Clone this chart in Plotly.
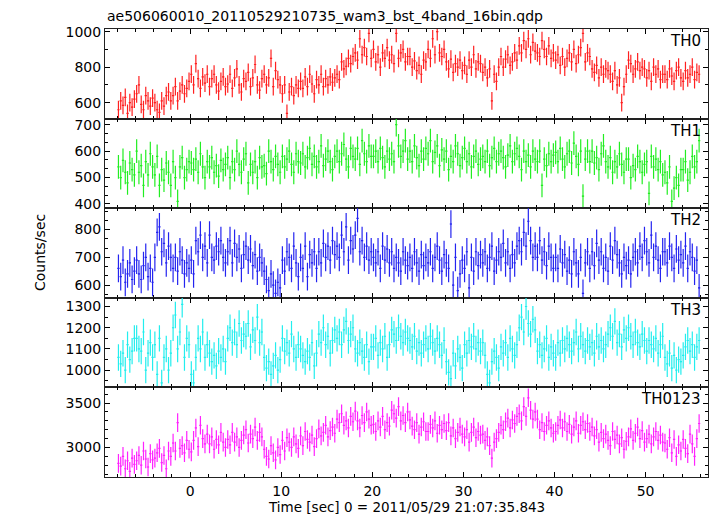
import plotly.graph_objects as go
from plotly.subplots import make_subplots

# ---------------- data (0.25 s bins, t = -8 .. 56 s) ----------------
BIN_START = -7.875   # centre of first bin [s]
BIN_WIDTH = 0.25     # [s]

th0 = [560, 610, 585, 630, 540, 600, 575, 620,
       650, 700, 590, 560, 640, 610, 580, 625,
       600, 560, 545, 610, 580, 640, 660, 610,
       640, 690, 610, 665, 700, 650, 680, 720,
       760, 700, 820, 735, 680, 745, 710, 760,
       690, 735, 760, 700, 665, 720, 745, 690,
       705, 760, 680, 740, 790, 700, 660, 735,
       720, 770, 690, 740, 815, 700, 670, 735,
       760, 700, 740, 850, 690, 780, 730, 700,
       650, 700, 540, 660, 690, 640, 700, 680,
       720, 680, 745, 690, 760, 705, 650, 730,
       700, 760, 690, 735, 700, 745, 715, 740,
       760, 730, 830, 790, 805, 850, 820, 860,
       880, 840, 960, 870, 910, 860, 990, 850,
       900, 830, 870, 800, 880, 850, 910, 840,
       870, 820, 990, 850, 880, 900, 830, 860,
       860, 800, 835, 780, 810, 760, 840, 830,
       900, 850, 960, 870, 1000, 880, 860, 900,
       830, 790, 845, 770, 820, 800, 840, 780,
       810, 760, 840, 800, 870, 790, 830, 820,
       770, 800, 740, 790, 610, 760, 720, 800,
       860, 800, 845, 870, 810, 830, 880, 840,
       920, 880, 950, 900, 960, 870, 940, 890,
       880, 860, 950, 900, 860, 920, 850, 880,
       840, 870, 810, 860, 800, 850, 880, 830,
       900, 820, 870, 910, 990, 830, 880, 860,
       790, 770, 810, 740, 800, 760, 790, 780,
       760, 720, 780, 700, 740, 600, 690, 760,
       840, 820, 760, 790, 830, 780, 800, 790,
       740, 780, 720, 800, 760, 790, 730, 760,
       760, 730, 790, 750, 720, 780, 800, 740,
       720, 780, 740, 760, 800, 730, 770, 760]

th1 = [540, 500, 565, 520, 480, 555, 530, 510,
       600, 520, 545, 470, 560, 510, 590, 540,
       510, 580, 470, 530, 490, 555, 520, 470,
       560, 500, 410, 540, 575, 500, 530, 560,
       555, 530, 570, 520, 590, 540, 500, 560,
       540, 575, 520, 545, 505, 565, 530, 550,
       575, 500, 560, 530, 600, 550, 520, 570,
       590, 480, 550, 520, 560, 500, 575, 540,
       545, 515, 600, 560, 530, 580, 550, 520,
       580, 540, 570, 600, 550, 520, 590, 560,
       555, 590, 540, 575, 610, 550, 580, 540,
       560, 620, 545, 570, 600, 560, 530, 580,
       600, 560, 590, 625, 570, 540, 610, 580,
       570, 610, 550, 640, 590, 560, 620, 580,
       580, 600, 560, 610, 575, 540, 600, 570,
       590, 560, 700, 620, 580, 600, 640, 570,
       600, 560, 620, 575, 545, 600, 570, 610,
       590, 640, 560, 595, 620, 545, 605, 570,
       600, 530, 580, 560, 620, 590, 545, 575,
       610, 560, 590, 540, 580, 600, 550, 570,
       580, 560, 600, 545, 575, 610, 560, 590,
       600, 575, 540, 585, 620, 560, 590, 610,
       580, 530, 600, 560, 585, 540, 600, 570,
       560, 600, 470, 570, 545, 590, 560, 585,
       595, 560, 610, 570, 540, 590, 600, 555,
       630, 580, 550, 600, 430, 570, 600, 560,
       600, 555, 575, 530, 590, 620, 560, 540,
       575, 520, 560, 540, 590, 550, 520, 570,
       570, 500, 545, 530, 580, 560, 520, 550,
       560, 440, 580, 540, 570, 530, 560, 510,
       520, 480, 540, 410, 460, 500, 470, 530,
       530, 560, 490, 520, 580, 540, 560, 640]

th2 = [660, 630, 690, 610, 640, 680, 620, 650,
       690, 640, 620, 670, 700, 630, 660, 610,
       700, 790, 810, 720, 750, 680, 740, 700,
       660, 700, 650, 720, 690, 640, 680, 660,
       690, 640, 760, 720, 780, 700, 740, 680,
       780, 700, 690, 740, 720, 760, 700, 680,
       720, 760, 680, 750, 700, 730, 660, 710,
       740, 690, 730, 670, 710, 650, 700, 680,
       650, 620, 580, 640, 600, 570, 610, 590,
       690, 650, 720, 700, 660, 740, 680, 630,
       700, 660, 740, 630, 710, 680, 720, 660,
       720, 680, 750, 700, 740, 690, 760, 710,
       740, 700, 780, 720, 810, 690, 760, 730,
       780, 840, 720, 760, 700, 740, 690, 720,
       700, 680, 720, 660, 740, 690, 730, 680,
       720, 660, 700, 680, 650, 720, 690, 670,
       700, 660, 720, 680, 650, 710, 670, 700,
       680, 720, 660, 700, 740, 690, 650, 710,
       680, 660, 820, 600, 700, 580, 640, 690,
       660, 720, 590, 700, 650, 720, 670, 710,
       680, 720, 660, 700, 740, 650, 690, 720,
       700, 750, 680, 720, 660, 710, 680, 740,
       760, 720, 790, 740, 830, 760, 700, 740,
       700, 760, 690, 720, 670, 740, 700, 660,
       700, 660, 730, 680, 710, 650, 690, 640,
       720, 680, 640, 700, 570, 680, 720, 660,
       720, 670, 750, 690, 720, 660, 700, 650,
       740, 690, 760, 710, 680, 640, 700, 670,
       690, 640, 700, 720, 680, 740, 700, 760,
       720, 680, 780, 700, 740, 690, 660, 720,
       720, 680, 740, 700, 660, 730, 690, 710,
       680, 740, 660, 720, 700, 650, 690, 590]

th3 = [1060, 1030, 1080, 1000, 1120, 1050, 1090, 1150,
       1150, 1100, 1090, 1180, 1000, 1080, 1130, 1060,
       1120, 980, 1150, 940, 1060, 1100, 1000, 1080,
       1200, 1260, 1100, 1180, 1310, 1060, 1150, 1120,
       980, 940, 1060, 1150, 1100, 1180, 1060, 1120,
       1080, 1040, 1070, 1020, 1090, 1060, 1100, 1040,
       1150, 1200, 1130, 1180, 1120, 1220, 1140, 1170,
       1160, 1220, 1110, 1190, 1140, 1250, 1130, 1180,
       1060, 1010, 1040, 980, 1020, 1070, 1000, 1050,
       1150, 1090, 1130, 1080, 1170, 1100, 1060, 1120,
       1100, 1070, 1040, 1090, 1060, 1130, 1020, 1080,
       1170, 1130, 1200, 1120, 1160, 1080, 1140, 1190,
       1150, 1180, 1120, 1190, 1230, 1140, 1170, 1200,
       1100, 1080, 1130, 1090, 1060, 1120, 1040, 1110,
       1110, 1150, 1070, 1130, 1100, 1160, 1060, 1120,
       1190, 1170, 1140, 1200, 1160, 1130, 1180, 1150,
       1140, 1110, 1160, 1090, 1130, 1080, 1120, 1150,
       1100, 1160, 1130, 1090, 1150, 1120, 1070, 1140,
       1040, 990, 960, 1080, 1020, 1100, 1060, 1010,
       1120, 1080, 1140, 1110, 1160, 1100, 1130, 1090,
       1130, 1070, 980, 940, 1040, 1090, 1060, 1010,
       1110, 1080, 1130, 1060, 1150, 1100, 1070, 1120,
       1200, 1250, 1180, 1300, 1220, 1170, 1240, 1190,
       1090, 1120, 1070, 1100, 1150, 1060, 1110, 1080,
       1060, 1130, 1080, 1140, 1100, 1150, 1120, 1090,
       1130, 1180, 1100, 1160, 1120, 1090, 1140, 1110,
       1130, 1080, 1160, 1110, 1140, 1100, 1120, 1170,
       1200, 1160, 1230, 1130, 1170, 1110, 1190, 1150,
       1200, 1160, 1120, 1180, 1130, 1110, 1170, 1140,
       1090, 1140, 1120, 1100, 1150, 1080, 1120, 1160,
       1060, 1030, 1080, 1010, 1070, 1000, 1050, 1040,
       1070, 1110, 1140, 1090, 1120, 1060, 1110, 1140]

th0123 = [2820, 2790, 2900, 2760, 2850, 2730, 2880, 2810,
          2850, 2910, 2800, 2960, 2870, 2780, 2930, 2860,
          2880, 2940, 2990, 2830, 2910, 2760, 2960, 2900,
          3050, 2960, 3280, 2990, 3020, 2940, 3080, 2980,
          2950, 3080, 3220, 3010, 3250, 3100, 3040, 3150,
          3040, 3120, 2980, 3090, 3030, 3170, 3060, 3000,
          3090, 3030, 3170, 3060, 3120, 3000, 3080, 3140,
          3200, 3050, 3150, 3100, 3230, 3080, 3170, 3120,
          2980, 2900, 2870, 3020, 2940, 2860, 3000, 2920,
          3080, 2960, 3110, 3060, 3000, 3120, 3040, 2990,
          3130, 3020, 3180, 3090, 3060, 3140, 3010, 3100,
          3210, 3130, 3170, 3250, 3120, 3190, 3230, 3160,
          3320, 3280, 3380, 3250, 3300, 3220, 3350, 3290,
          3410, 3300, 3220, 3360, 3280, 3400, 3320, 3250,
          3260, 3180, 3300, 3230, 3350, 3200, 3280, 3240,
          3420, 3380, 3330, 3460, 3300, 3360, 3280, 3400,
          3310, 3240, 3200, 3280, 3150, 3230, 3290, 3180,
          3180, 3260, 3220, 3300, 3160, 3250, 3200, 3270,
          3190, 3280, 3130, 3220, 3100, 3170, 3230, 3150,
          3120, 3200, 3060, 3170, 3230, 3110, 3180, 3140,
          3150, 3080, 3120, 3020, 2880, 3060, 3100, 3170,
          3250, 3200, 3290, 3330, 3220, 3310, 3270, 3350,
          3380, 3300, 3460, 3350, 3560, 3420, 3320, 3400,
          3320, 3200, 3280, 3180, 3250, 3300, 3220, 3160,
          3180, 3250, 3310, 3220, 3290, 3180, 3260, 3150,
          3230, 3300, 3160, 3250, 3290, 3200, 3270, 3180,
          3230, 3130, 3200, 3060, 3170, 3100, 3150, 3080,
          3020, 3180, 3090, 3140, 3040, 3110, 2980, 3070,
          3120, 3210, 3080, 3160, 3230, 3100, 3190, 3060,
          3100, 3150, 3040, 3120, 3180, 3080, 3140, 3060,
          3050, 2980, 3110, 2940, 3090, 2900, 3030, 2960,
          3090, 2990, 2930, 3150, 3040, 2900, 3100, 3270]

panel_names = ["TH0", "TH1", "TH2", "TH3", "TH0123"]
series = [th0, th1, th2, th3, th0123]
errors = [50, 45, 50, 62, 105]           # typical 1-sigma error per panel
colors = ["#ff2020", "#22ee22", "#2424f0", "#22eeee", "#ff22ff"]
y_ranges = [[510, 1015], [384, 723], [554, 877], [919, 1341], [2667, 3677]]
y_tickvals = [[600, 800, 1000], [400, 500, 600, 700], [600, 700, 800],
              [1000, 1100, 1200, 1300], [3000, 3500]]
y_minor = [(100, 0), (100 / 3, 400), (100 / 3, 600), (50, 0), (100, 0)]

title = "ae506060010_20110529210735_wam3_bst_4band_16bin.qdp"
x_title = "Time [sec] 0 = 2011/05/29 21:07:35.843"
y_title = "Counts/sec"
x_range = [-9.35, 56.85]

FONT = "DejaVu Sans"

time = [BIN_START + BIN_WIDTH * i for i in range(len(th0))]

fig = make_subplots(rows=5, cols=1, shared_xaxes=True, vertical_spacing=0)

for k, (name, ys, err, col) in enumerate(zip(panel_names, series, errors, colors)):
    fig.add_trace(go.Scatter(
        x=time, y=ys, mode="markers",
        marker=dict(size=1, color=col),
        error_y=dict(type="constant", value=err, color=col, thickness=1.2, width=0),
        error_x=dict(type="constant", value=BIN_WIDTH / 2, color=col, thickness=1.2, width=0),
        showlegend=False, hoverinfo="skip"), row=k + 1, col=1)

    fig.update_yaxes(
        range=y_ranges[k], tickvals=y_tickvals[k], ticks="inside", ticklen=5,
        tickcolor="black", tickwidth=1, mirror="allticks", showline=True,
        linecolor="#222", linewidth=1, showgrid=False, zeroline=False,
        tickfont=dict(family=FONT, size=14, color="black"),
        ticklabelstandoff=0,
        minor=dict(dtick=y_minor[k][0], tick0=y_minor[k][1], ticks="inside",
                   ticklen=3, tickcolor="black", showgrid=False),
        row=k + 1, col=1)

    fig.update_xaxes(
        range=x_range, tickvals=[0, 10, 20, 30, 40, 50], ticks="inside", ticklen=5,
        tickcolor="black", tickwidth=1, mirror="allticks", showline=True,
        linecolor="#222", linewidth=1, showgrid=False, zeroline=False,
        tickfont=dict(family=FONT, size=14, color="black"),
        ticklabelstandoff=1,
        minor=dict(dtick=2, tick0=0, ticks="inside", ticklen=3,
                   tickcolor="black", showgrid=False),
        row=k + 1, col=1)

annotations = []
for k, name in enumerate(panel_names):
    yref = "y domain" if k == 0 else f"y{k + 1} domain"
    annotations.append(dict(text=name, x=1, y=1, xref="paper", yref=yref,
                            xanchor="right", yanchor="top", xshift=-5, yshift=-1,
                            showarrow=False,
                            font=dict(family=FONT, size=15, color="black")))

annotations.append(dict(text=title, x=0, y=1, xref="paper", yref="paper",
                        xanchor="left", yanchor="bottom", yshift=3, showarrow=False,
                        font=dict(family=FONT, size=14, color="black")))
annotations.append(dict(text=x_title, x=0.5, y=0, xref="paper", yref="paper",
                        xanchor="center", yanchor="bottom", yshift=-39, showarrow=False,
                        borderpad=0,
                        font=dict(family=FONT, size=13.5, color="black")))
annotations.append(dict(text=y_title, x=0, y=0.5, xref="paper", yref="paper",
                        xanchor="center", yanchor="middle", xshift=-65, textangle=-90,
                        showarrow=False,
                        font=dict(family=FONT, size=14, color="black")))

fig.update_layout(
    width=717, height=516,
    margin=dict(l=105, r=9, t=29, b=39),
    paper_bgcolor="white", plot_bgcolor="white",
    annotations=annotations,
)

# remove the default 8px page margin so the figure fills the window exactly
fig.write_html("out.html",
               config={"displayModeBar": False},
               post_script="document.body.style.margin='0';document.body.style.overflow='hidden';")
